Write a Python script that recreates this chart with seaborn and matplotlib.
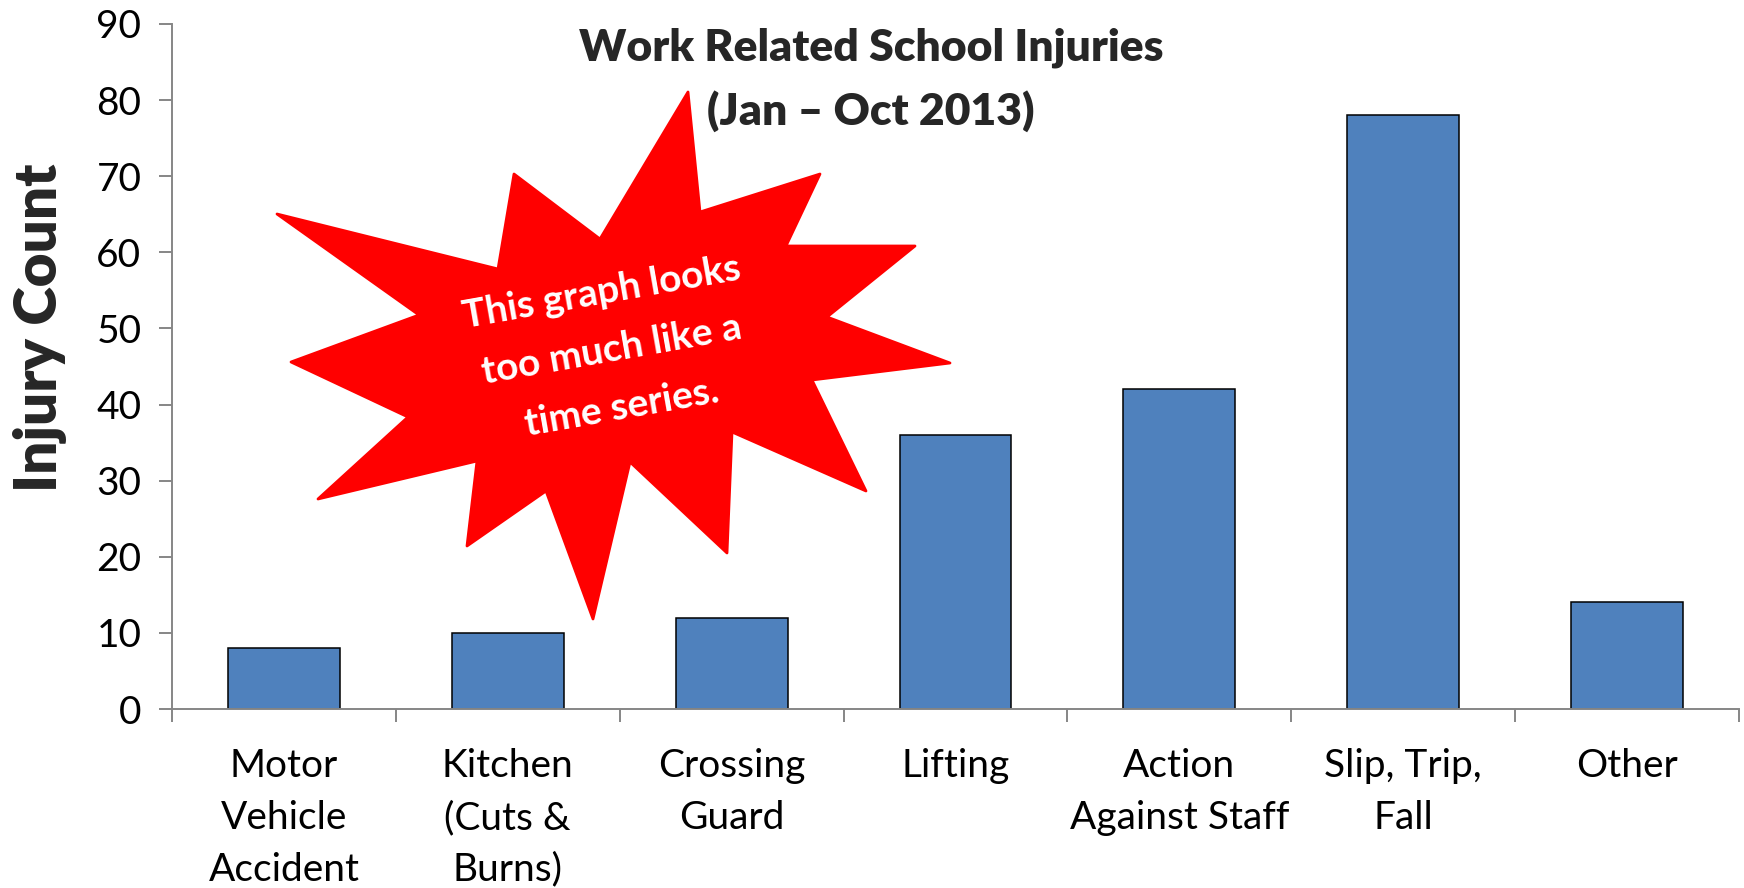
"""
plot.py -- Work related school injuries bar chart (Jan - Oct 2013)
Saves out.png (1744x888).
"""
import matplotlib
matplotlib.use("Agg")  # headless
import matplotlib.pyplot as plt
from matplotlib.patches import Polygon
import numpy as np
import seaborn as sns

# ---- data ------------------------------------------------------------------
categories = [
    "Motor\nVehicle\nAccident",
    "Kitchen\n(Cuts &\nBurns)",
    "Crossing\nGuard",
    "Lifting",
    "Action\nAgainst Staff",
    "Slip, Trip,\nFall",
    "Other",
]
injury_counts = [8, 10, 12, 36, 42, 78, 14]
y_ticks = [0, 10, 20, 30, 40, 50, 60, 70, 80, 90]

title_text = "Work Related School Injuries\n(Jan \u2013 Oct 2013)"
ylabel_text = "Injury Count"
callout_text = "This graph looks\ntoo much like a\ntime series."

# callout starburst outline, in figure pixels (x right, y down)
star_px = [
    (688, 92), (700, 212), (820, 174), (786, 246), (915, 246), (827, 317),
    (950, 363), (812, 380), (866, 491), (732, 432), (727, 553), (630, 462),
    (593, 619), (546, 491), (467, 546), (477, 461), (318, 499), (408, 417),
    (291, 362), (419, 315), (277, 214), (498, 269), (514, 174), (600, 239),
]

W, H = 1744, 888
BAR_BLUE = "#4F81BD"
AXIS_GREY = "#868686"

sns.set_style("white")
plt.rcParams["font.family"] = ["Lato", "DejaVu Sans"]


def main():
    fig = plt.figure(figsize=(W / 100, H / 100), dpi=100)
    ax = fig.add_axes([172 / W, 1 - 709 / H, (1739 - 172) / W, (709 - 24) / H])

    sns.barplot(x=categories, y=injury_counts, color=BAR_BLUE, width=0.5,
                edgecolor="black", linewidth=1.1, saturation=1, ax=ax)

    ax.set_ylim(0, 90)
    ax.set_xlim(-0.5, len(categories) - 0.5)
    ax.set_yticks(y_ticks)
    ax.set_xlabel("")
    ax.set_ylabel("")

    for side in ("top", "right"):
        ax.spines[side].set_visible(False)
    for side in ("left", "bottom"):
        ax.spines[side].set_color(AXIS_GREY)
        ax.spines[side].set_linewidth(1.4)

    # y ticks: outward grey marks, big labels
    ax.tick_params(axis="y", which="major", direction="out", length=9.5,
                   width=1.4, color=AXIS_GREY, labelsize=28, pad=12.5,
                   left=True, labelcolor="black")
    # x: labels under category centres, tick marks at category boundaries
    ax.tick_params(axis="x", which="major", length=0, labelsize=28, pad=28,
                   labelcolor="black")
    ax.set_xticks(np.arange(-0.5, len(categories), 1.0), minor=True)
    ax.tick_params(axis="x", which="minor", direction="out", length=9,
                   width=1.4, color=AXIS_GREY, bottom=True)
    for lbl in ax.get_xticklabels():
        lbl.set_linespacing(1.55)
        lbl.set_multialignment("center")

    # titles
    fig.text(0.4995, 1 - 80 / H, title_text, ha="center", va="center",
             fontsize=32, fontweight="heavy", linespacing=1.64)
    fig.text(40 / W, 1 - 328 / H, ylabel_text, rotation=90, ha="center",
             va="center", fontsize=42, fontweight="heavy")

    # red starburst callout
    star_fig = [(x / W, 1 - y / H) for x, y in star_px]
    star = Polygon(star_fig, closed=True, facecolor="#FF0000",
                   edgecolor="#FF0000", linewidth=2, joinstyle="round",
                   transform=fig.transFigure, zorder=5)
    fig.add_artist(star)
    fig.text(612 / W, 1 - 350 / H, callout_text, rotation=10, ha="center",
             va="center", multialignment="center", fontsize=28,
             fontweight="bold", color="white", linespacing=1.8, zorder=6)

    fig.savefig("out.png", dpi=100, facecolor="white")
    plt.close(fig)


if __name__ == "__main__":
    main()
